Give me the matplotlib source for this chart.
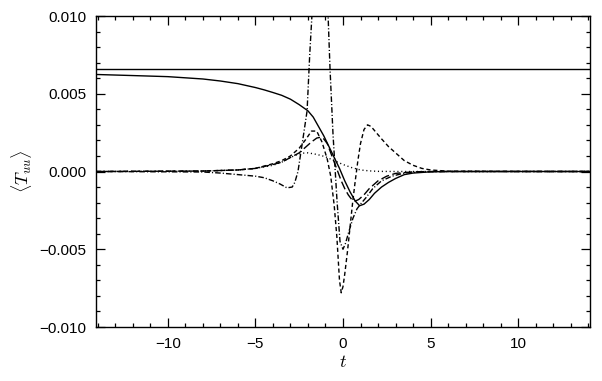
import numpy as np
import matplotlib
matplotlib.use('Agg')
from matplotlib import pyplot as plt
from matplotlib.ticker import MultipleLocator, FuncFormatter

plt.rcParams['font.family'] = ['Liberation Sans', 'DejaVu Sans']
plt.rcParams['mathtext.fontset'] = 'cm'

# asymptote level
level = 0.00662

# solid curve
t_solid = [-14.1, -12, -10, -8, -7, -6, -5, -4.5, -4, -3.5, -3, -2.5, -2, -1.7, -1.4, -1.1, -0.8,
           -0.5, -0.2, 0.1, 0.4, 0.7, 0.95, 1.2, 1.5, 1.8, 2.2, 2.6, 3.0, 3.5, 4.0, 5.0, 6, 14.1]
y_solid = [0.00624, 0.00617, 0.0061, 0.00595, 0.00582, 0.00565, 0.0054, 0.00525, 0.00508,
           0.0049, 0.00465, 0.0043, 0.0039, 0.0035, 0.0029, 0.0023, 0.0016, 0.0009, 0.0002,
           -0.0006, -0.0013, -0.0019, -0.0022, -0.0021, -0.0018, -0.0014, -0.0010, -0.0007,
           -0.00045, -0.0002, -0.0001, -0.00002, 0, 0]

# long dashes
t_long = [-14.1, -8, -6, -5, -4, -3.5, -3, -2.5, -2.1, -1.8, -1.5, -1.3, -1.1, -0.9, -0.7, -0.5,
          -0.3, -0.1, 0.1, 0.3, 0.5, 0.7, 0.9, 1.2, 1.5, 2.0, 2.5, 3.0, 4, 5, 14.1]
y_long = [0, 0.00003, 0.0001, 0.0002, 0.00045, 0.0006, 0.0009, 0.0012, 0.0016, 0.0019, 0.00215,
          0.0022, 0.0021, 0.0018, 0.0012, 0.0006, 0.0000, -0.0006, -0.0011, -0.0015, -0.0018,
          -0.0019, -0.0018, -0.0015, -0.0011, -0.0006, -0.0003, -0.00012, -0.00002, 0, 0]

# short dashes
t_dash = [-14.1, -8, -6, -5, -4, -3.5, -3, -2.5, -2.1, -1.8, -1.5, -1.2, -0.9, -0.7, -0.5, -0.35,
          -0.2, -0.1, 0.0, 0.1, 0.25, 0.4, 0.55, 0.7, 0.85, 1.0, 1.2, 1.4, 1.6, 1.9, 2.2, 2.6,
          3.0, 3.5, 4.0, 4.5, 5.0, 6, 14.1]
y_dash = [0, 0.00003, 0.0001, 0.0002, 0.0005, 0.0007, 0.001, 0.0015, 0.0021, 0.0026, 0.0026,
          0.0019, 0.0008, -0.0003, -0.0022, -0.0042, -0.0070, -0.0078, -0.0074, -0.0066,
          -0.0052, -0.0036, -0.0020, -0.0006, 0.0007, 0.0018, 0.0027, 0.0030, 0.0029, 0.0025,
          0.0021, 0.0016, 0.0012, 0.0007, 0.0004, 0.0002, 0.0001, 0.00002, 0]

# dash-dot (spike)
t_dd = [-14.1, -8, -7, -6, -5, -4.5, -4, -3.6, -3.2, -2.9, -2.75, -2.57, -2.3, -2.05, -1.9,
        -1.75, -1.4, -1.05, -0.85, -0.74, -0.57, -0.34, -0.17, 0.0, 0.15, 0.3, 0.57, 0.8, 1.0,
        1.3, 1.7, 2.2, 2.8, 3.5, 4.5, 6, 14.1]
y_dd = [0, -0.00003, -0.0001, -0.0002, -0.0003, -0.0004, -0.0006, -0.0008, -0.00105, -0.001,
        -0.0007, 0.0, 0.002, 0.0039, 0.0075, 0.0105, 0.016, 0.013, 0.0100, 0.0066, 0.0024,
        -0.0019, -0.0045, -0.0050, -0.0046, -0.0040, -0.0030, -0.0024, -0.0021, -0.0017,
        -0.0011, -0.0006, -0.0003, -0.0001, -0.00002, 0, 0]

# dotted
t_dot = [-14.1, -8, -6, -5, -4, -3.5, -3, -2.6, -2.3, -2.0, -1.5, -1.0, -0.5, 0, 0.5, 1.0, 1.5,
         2, 3, 4, 14.1]
y_dot = [0, 0.00003, 0.0001, 0.0002, 0.0004, 0.0006, 0.0009, 0.0011, 0.00118, 0.0012, 0.0011,
         0.00095, 0.0007, 0.00045, 0.00025, 0.0001, 0.00004, 0.00001, 0, 0, 0]

fig = plt.figure(figsize=(6.02, 3.81), dpi=100)
ax = fig.add_axes([0.1595, 0.1417, 0.8205, 0.8163])

lw = 1.0
ax.axhline(level, color='black', lw=lw)
ax.plot(t_solid, y_solid, color='black', lw=lw)
ax.plot(t_long, y_long, color='black', lw=lw, dashes=(6, 2.5))
ax.plot(t_dash, y_dash, color='black', lw=lw, dashes=(3, 2))
ax.plot(t_dd, y_dd, color='black', lw=lw, dashes=(4, 1.5, 0.8, 1.5))
ax.plot(t_dot, y_dot, color='black', lw=lw, dashes=(0.8, 2))

ax.set_xlim(-14.1, 14.1)
ax.set_ylim(-0.010, 0.010)
ax.xaxis.set_major_locator(MultipleLocator(5))
ax.xaxis.set_minor_locator(MultipleLocator(1))
ax.yaxis.set_major_locator(MultipleLocator(0.005))
ax.yaxis.set_minor_locator(MultipleLocator(0.001))
ax.yaxis.set_major_formatter(FuncFormatter(lambda v, p: ('%.3f' % v).replace('-', '\u2212')))
ax.tick_params(which='both', direction='in', top=True, right=True, labelsize=11, width=0.9)
ax.tick_params(which='major', length=6.5, pad=7)
ax.tick_params(which='minor', length=3.2)
for sp in ax.spines.values():
    sp.set_linewidth(1.0)

ax.set_xlabel(r'$t$', fontsize=13, labelpad=2)
ax.set_ylabel(r'$\langle T_{uu}\rangle$', fontsize=13, labelpad=4)

fig.savefig('out.png', dpi=100)
